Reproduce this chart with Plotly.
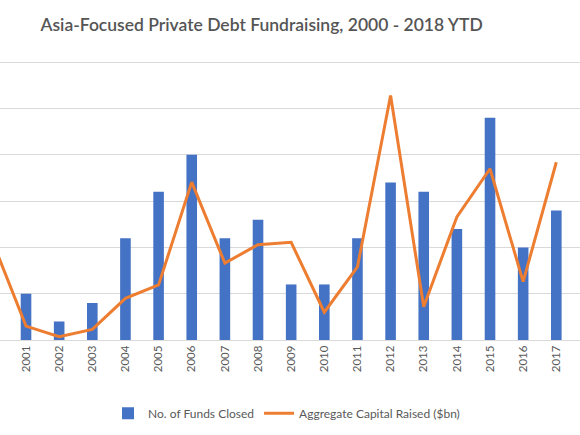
import plotly.graph_objects as go

# Values (the 2000 column sits just off the left edge)
years = [str(y) for y in range(2000, 2018)]
funds_closed = [3, 5, 2, 4, 11, 16, 20, 11, 13, 6, 6, 11, 17, 16, 12, 24, 10, 14]
capital_raised = [2.11, 0.30, 0.07, 0.23, 0.90, 1.19, 3.41, 1.66, 2.06, 2.11,
                  0.60, 1.58, 5.28, 0.72, 2.66, 3.70, 1.26, 3.84]

grey = "#595959"
font = "Lato"

fig = go.Figure()

fig.add_trace(go.Bar(
    x=years, y=funds_closed, name="No. of Funds Closed",
    marker=dict(color="#4472C4", line=dict(width=0)), width=0.32,
))
fig.add_trace(go.Scatter(
    x=years, y=capital_raised, name="Aggregate Capital Raised ($bn)",
    mode="lines", line=dict(color="#ED7D31", width=3), yaxis="y2",
))

fig.update_layout(
    width=580, height=435,
    margin=dict(l=0, r=0, t=53, b=95),
    paper_bgcolor="white", plot_bgcolor="white",
    font=dict(family=font, color=grey),
    title=dict(
        text="Asia-Focused Private Debt Fundraising, 2000 - 2018 YTD",
        x=0.451, xanchor="center", y=0.943, yanchor="middle",
        font=dict(family=font, size=17.5, color="#555555", weight=600),
    ),
    showlegend=True,
    legend=dict(
        orientation="h", x=0.494, xanchor="center", y=-0.255, yanchor="middle",
        font=dict(family=font, size=12, color=grey),
    ),
    xaxis=dict(
        type="category", range=[0.215, 17.715],
        tickangle=-90, tickfont=dict(family=font, size=11.5, color=grey),
        showgrid=False, showline=True, linecolor="#d9d9d9", linewidth=1,
        ticks="", fixedrange=True,
    ),
    yaxis=dict(
        range=[0, 31], tickvals=[5, 10, 15, 20, 25, 30], showticklabels=False,
        showgrid=True, gridcolor="#d9d9d9", gridwidth=1,
        zeroline=False, showline=False, ticks="",
    ),
    yaxis2=dict(
        range=[0, 6.2], overlaying="y", side="right",
        showticklabels=False, showgrid=False, zeroline=False, ticks="",
    ),
)

# the default page has an 8px body margin; drop it so the figure fills the window
fig.write_html("out.html", config={"displayModeBar": False},
               post_script="document.body.style.margin='0';")
